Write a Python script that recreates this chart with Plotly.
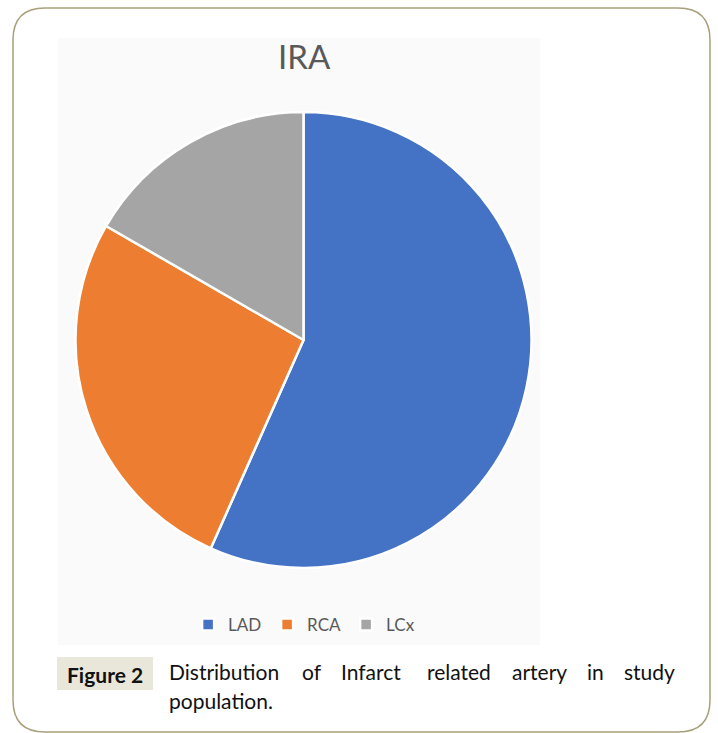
import plotly.graph_objects as go

# ---- data ----
labels = ["LAD", "RCA", "LCx"]
values = [34, 16, 10]
colors = ["#4472C4", "#ED7D31", "#A5A5A5"]
chart_title = "IRA"
fig_label = "Figure 2"
caption_line1 = ["Distribution", "of", "Infarct", "related", "artery", "in", "study"]
caption_line2 = "population."

W, H = 718, 733

fig = go.Figure()
fig.add_trace(go.Pie(
    labels=labels, values=values, sort=False, direction="clockwise", rotation=0,
    marker=dict(colors=colors, line=dict(color="white", width=2.5)),
    textinfo="none", hoverinfo="label+value+percent",
    domain=dict(x=[75.5 / W, 531.5 / W], y=[1 - 568 / H, 1 - 112 / H]),
))

# pixel-space helper axes
fig.update_layout(
    width=W, height=H, margin=dict(l=0, r=0, t=0, b=0),
    paper_bgcolor="white", plot_bgcolor="rgba(0,0,0,0)",
    xaxis=dict(range=[0, W], visible=False, domain=[0, 1], fixedrange=True),
    yaxis=dict(range=[H, 0], visible=False, domain=[0, 1], fixedrange=True),
    showlegend=True,
    legend=dict(orientation="h", x=0.262, xanchor="left", y=1 - 607 / H, yanchor="top",
                font=dict(family="Lato", size=17, color="#595959"),
                itemwidth=30, entrywidth=34, entrywidthmode="pixels",
                bgcolor="rgba(0,0,0,0)", traceorder="normal"),
)

# outer rounded frame
x0, y0, x1, y1, r = 13, 8, 710, 732, 32
path = (f"M {x0+r},{y0} L {x1-r},{y0} Q {x1},{y0} {x1},{y0+r} L {x1},{y1-r} "
        f"Q {x1},{y1} {x1-r},{y1} L {x0+r},{y1} Q {x0},{y1} {x0},{y1-r} "
        f"L {x0},{y0+r} Q {x0},{y0} {x0+r},{y0} Z")
fig.add_shape(type="path", path=path, xref="x", yref="y",
              line=dict(color="#A8A07C", width=1.5), layer="below")
# chart area background
fig.add_shape(type="rect", x0=58, x1=540, y0=38, y1=645, xref="x", yref="y",
              fillcolor="#FAFAFA", line=dict(width=0), layer="below")
# figure label box
fig.add_shape(type="rect", x0=57, x1=153, y0=657, y1=690, xref="x", yref="y",
              fillcolor="#E9E7DA", line=dict(width=0), layer="below")

fig.add_annotation(x=304, y=56, xref="x", yref="y", text=chart_title, showarrow=False,
                   font=dict(family="Lato", size=33, color="#595959"),
                   xanchor="center", yanchor="middle")
fig.add_annotation(x=105, y=674, xref="x", yref="y", text=f"<b>{fig_label}</b>", showarrow=False,
                   font=dict(family="Lato", size=21, color="#111111"),
                   xanchor="center", yanchor="middle")

word_x = [167, 300, 339, 425, 510, 585, 622]
for wx, wd in zip(word_x, caption_line1):
    fig.add_annotation(x=wx, y=671, xref="x", yref="y", text=wd, showarrow=False,
                       font=dict(family="Lato", size=21, color="#111111"),
                       xanchor="left", yanchor="middle")
fig.add_annotation(x=167, y=700, xref="x", yref="y", text=caption_line2, showarrow=False,
                   font=dict(family="Lato", size=21, color="#111111"),
                   xanchor="left", yanchor="middle")

fig.write_html("out.html", config={"displayModeBar": False},
               post_script="document.body.style.margin='0';")
